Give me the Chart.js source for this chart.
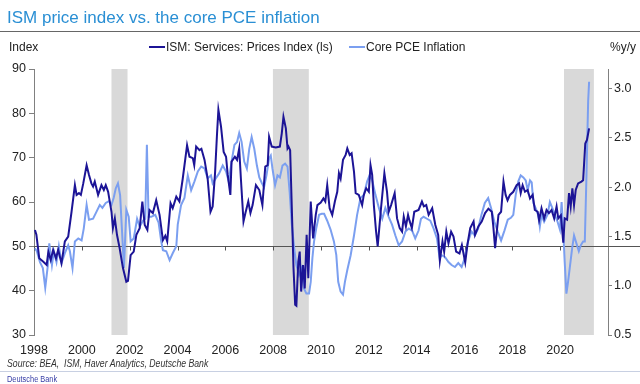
<!DOCTYPE html>
<html>
<head>
<meta charset="utf-8">
<script src="https://cdn.jsdelivr.net/npm/chart.js@4.4.1/dist/chart.umd.min.js"></script>
<style>
  body { margin: 0; background: #fff; }
  #wrap { position: relative; width: 640px; height: 384px; overflow: hidden; font-family: "Liberation Sans", Arial, sans-serif; }
  #chart { position: absolute; left: 0; top: 0; }
  .txt { position: absolute; white-space: nowrap; line-height: 1; }
  .narrow { transform: scaleX(0.87); transform-origin: left center; }
  .rule { position: absolute; left: 0; width: 640px; height: 1px; }
  .swatch { position: absolute; width: 16px; height: 2px; }
</style>
</head>
<body>
<div id="wrap">
  <canvas id="chart" width="640" height="384"></canvas>
  <div class="txt" style="left:7px; top:9px; font-size:17px; color:#2a8fd4;">ISM price index vs. the core PCE inflation</div>
  <div class="rule" style="top:31px; background:#666;"></div>
  <div class="txt" style="left:9px; top:41px; font-size:12px; color:#222;">Index</div>
  <div class="swatch" style="left:149px; top:46px; background:#1c1496;"></div>
  <div class="txt" style="left:166px; top:41px; font-size:12px; color:#222;">ISM: Services: Prices Index (ls)</div>
  <div class="swatch" style="left:349px; top:46px; background:#7b9ff0;"></div>
  <div class="txt" style="left:366px; top:41px; font-size:12px; color:#222;">Core PCE Inflation</div>
  <div class="txt" style="left:610px; top:41px; font-size:12px; color:#222;">%y/y</div>
  <div class="txt narrow" style="left:7px; top:359px; font-size:10px; font-style:italic; color:#333;">Source: BEA,&nbsp; ISM, Haver Analytics, Deutsche Bank</div>
  <div class="rule" style="top:371px; background:#c8d0e2;"></div>
  <div class="txt narrow" style="left:7px; top:375px; font-size:8.5px; color:#3a40a8;">Deutsche Bank</div>
</div>
<script>
// ISM: Services: Prices Index (left axis)
const ismYears = [
  1998.04, 1998.1, 1998.22, 1998.39, 1998.53, 1998.6, 1998.7, 1998.8, 1998.92, 1999.01,
  1999.15, 1999.29, 1999.43, 1999.57, 1999.71, 1999.78, 1999.88, 1999.96, 2000.06, 2000.2,
  2000.3, 2000.4, 2000.47, 2000.54, 2000.68, 2000.82, 2000.92, 2001.0, 2001.1, 2001.24,
  2001.3, 2001.38, 2001.47, 2001.58, 2001.72, 2001.86, 2001.93, 2002.04, 2002.17, 2002.28,
  2002.42, 2002.53, 2002.63, 2002.74, 2002.83, 2002.97, 2003.11, 2003.25, 2003.39, 2003.49,
  2003.57, 2003.71, 2003.8, 2003.95, 2004.08, 2004.22, 2004.4, 2004.5, 2004.64, 2004.7,
  2004.78, 2004.92, 2005.0, 2005.13, 2005.26, 2005.38, 2005.47, 2005.57, 2005.65, 2005.71,
  2005.82, 2005.93, 2006.03, 2006.1, 2006.21, 2006.26, 2006.4, 2006.49, 2006.58, 2006.65,
  2006.76, 2006.84, 2006.96, 2007.05, 2007.14, 2007.28, 2007.42, 2007.55, 2007.67, 2007.77,
  2007.83, 2007.94, 2008.11, 2008.28, 2008.36, 2008.43, 2008.53, 2008.6, 2008.64, 2008.71,
  2008.78, 2008.85, 2008.92, 2008.97, 2009.05, 2009.11, 2009.17, 2009.25, 2009.32, 2009.4,
  2009.47, 2009.57, 2009.67, 2009.78, 2009.85, 2009.99, 2010.1, 2010.18, 2010.26, 2010.36,
  2010.47, 2010.58, 2010.68, 2010.75, 2010.82, 2010.92, 2011.03, 2011.1, 2011.2, 2011.28,
  2011.38, 2011.45, 2011.58, 2011.72, 2011.79, 2011.89, 2012.0, 2012.07, 2012.14, 2012.21,
  2012.3, 2012.37, 2012.51, 2012.65, 2012.76, 2012.83, 2012.93, 2013.08, 2013.18, 2013.29,
  2013.39, 2013.46, 2013.55, 2013.64, 2013.7, 2013.8, 2013.9, 2014.08, 2014.22, 2014.3,
  2014.4, 2014.5, 2014.65, 2014.78, 2014.9, 2014.97, 2015.08, 2015.15, 2015.24, 2015.33,
  2015.44, 2015.54, 2015.65, 2015.79, 2015.89, 2016.03, 2016.12, 2016.24, 2016.38, 2016.44,
  2016.58, 2016.72, 2016.86, 2017.0, 2017.14, 2017.2, 2017.28, 2017.42, 2017.53, 2017.63,
  2017.72, 2017.8, 2017.9, 2018.04, 2018.18, 2018.28, 2018.35, 2018.43, 2018.53, 2018.64,
  2018.74, 2018.85, 2018.94, 2019.06, 2019.12, 2019.22, 2019.33, 2019.43, 2019.53, 2019.64,
  2019.75, 2019.85, 2019.92, 2020.03, 2020.13, 2020.19, 2020.29, 2020.37, 2020.44, 2020.51,
  2020.58, 2020.65, 2020.75, 2020.89, 2020.96, 2021.05, 2021.12, 2021.21
];
const ismValues = [
  53.7, 52.6, 47.3, 46.5, 45.8, 48.8, 46.9, 49.2, 47.3, 49.2,
  46.2, 51.1, 52.2, 57.8, 63.8, 61.6, 62.0, 61.6, 64.2, 68.3,
  66.1, 64.2, 63.5, 64.6, 61.6, 63.8, 62.7, 63.8, 62.3, 57.8,
  54.1, 56.3, 52.6, 49.6, 45.1, 42.0, 42.2, 48.0, 48.8, 52.6,
  54.1, 60.1, 54.8, 53.7, 58.2, 57.5, 60.4, 57.1, 51.4, 52.4,
  51.1, 59.7, 58.6, 61.2, 60.1, 65.3, 72.8, 70.2, 69.9, 68.3,
  72.5, 71.7, 72.0, 69.5, 65.3, 57.8, 59.0, 66.5, 75.1, 80.8,
  77.0, 71.3, 70.2, 66.1, 61.6, 69.1, 70.2, 69.5, 72.1, 65.3,
  55.6, 57.5, 60.1, 57.5, 59.3, 63.8, 62.7, 59.3, 68.0, 68.3,
  74.7, 72.5, 72.3, 72.5, 75.5, 79.2, 76.6, 72.1, 72.5, 71.7,
  58.6, 45.1, 36.8, 36.6, 46.5, 48.8, 39.8, 45.8, 40.5, 52.6,
  42.8, 60.1, 51.8, 57.1, 59.3, 59.9, 60.8, 60.1, 63.8, 58.6,
  57.1, 60.1, 62.3, 66.5, 65.3, 69.5, 70.6, 72.1, 70.6, 71.0,
  66.8, 62.0, 61.6, 59.3, 61.6, 63.1, 62.3, 68.3, 66.1, 59.3,
  53.5, 50.0, 58.6, 66.5, 62.3, 57.8, 59.3, 62.0, 56.3, 54.1,
  53.3, 56.7, 54.5, 57.1, 55.8, 54.1, 57.8, 58.2, 60.1, 59.0,
  59.3, 57.1, 58.6, 54.8, 52.6, 46.8, 51.1, 48.8, 53.3, 50.7,
  53.3, 52.2, 48.8, 48.4, 50.3, 46.4, 50.3, 54.1, 55.6, 52.6,
  54.5, 55.6, 57.5, 58.5, 57.8, 54.8, 49.6, 57.1, 57.8, 64.6,
  61.6, 60.4, 61.6, 62.3, 63.8, 64.2, 62.0, 63.8, 62.3, 62.7,
  60.8, 61.6, 58.2, 57.8, 55.9, 58.6, 56.3, 58.2, 57.5, 58.2,
  56.3, 59.0, 56.3, 57.0, 50.8, 56.3, 56.0, 62.0, 59.0, 63.1,
  59.3, 62.7, 64.2, 64.6, 64.9, 73.2, 74.0, 76.6
];

// Core PCE inflation, %y/y (right axis)
const pceYears = [
  1998.04, 1998.12, 1998.25, 1998.37, 1998.47, 1998.58, 1998.64, 1998.75, 1998.83, 1998.94,
  1999.04, 1999.15, 1999.29, 1999.43, 1999.5, 1999.61, 1999.71, 1999.85, 1999.99, 2000.08,
  2000.2, 2000.3, 2000.47, 2000.61, 2000.75, 2000.86, 2001.0, 2001.14, 2001.24, 2001.33,
  2001.42, 2001.51, 2001.6, 2001.69, 2001.76, 2001.86, 2001.96, 2002.04, 2002.17, 2002.31,
  2002.42, 2002.56, 2002.65, 2002.72, 2002.79, 2002.9, 2003.07, 2003.21, 2003.32, 2003.39,
  2003.53, 2003.67, 2003.8, 2003.95, 2004.01, 2004.15, 2004.29, 2004.43, 2004.57, 2004.71,
  2004.85, 2004.99, 2005.13, 2005.26, 2005.4, 2005.47, 2005.6, 2005.74, 2005.89, 2006.03,
  2006.14, 2006.26, 2006.38, 2006.49, 2006.58, 2006.68, 2006.79, 2006.9, 2007.0, 2007.1,
  2007.21, 2007.32, 2007.42, 2007.53, 2007.62, 2007.72, 2007.83, 2007.9, 2007.97, 2008.08,
  2008.18, 2008.28, 2008.39, 2008.5, 2008.6, 2008.69, 2008.78, 2008.88, 2008.97, 2009.08,
  2009.19, 2009.29, 2009.39, 2009.5, 2009.57, 2009.64, 2009.71, 2009.8, 2009.92, 2010.03,
  2010.13, 2010.26, 2010.4, 2010.54, 2010.64, 2010.72, 2010.82, 2010.92, 2011.0, 2011.1,
  2011.24, 2011.38, 2011.51, 2011.65, 2011.79, 2011.93, 2012.03, 2012.14, 2012.28, 2012.42,
  2012.56, 2012.69, 2012.83, 2012.97, 2013.11, 2013.25, 2013.39, 2013.53, 2013.67, 2013.81,
  2013.94, 2014.08, 2014.18, 2014.29, 2014.43, 2014.57, 2014.71, 2014.85, 2014.96, 2015.05,
  2015.19, 2015.33, 2015.46, 2015.6, 2015.74, 2015.88, 2016.01, 2016.15, 2016.29, 2016.43,
  2016.57, 2016.71, 2016.85, 2016.99, 2017.11, 2017.25, 2017.39, 2017.53, 2017.67, 2017.81,
  2017.94, 2018.04, 2018.14, 2018.25, 2018.35, 2018.46, 2018.56, 2018.64, 2018.74, 2018.81,
  2018.88, 2018.97, 2019.08, 2019.15, 2019.22, 2019.33, 2019.47, 2019.57, 2019.67, 2019.78,
  2019.89, 2019.99, 2020.06, 2020.13, 2020.19, 2020.26, 2020.33, 2020.4, 2020.5, 2020.58,
  2020.68, 2020.78, 2020.86, 2020.96, 2021.03, 2021.1, 2021.17, 2021.21
];
const pceValues = [
  1.38, 1.35, 1.24, 1.18, 0.98, 1.21, 1.43, 1.21, 1.35, 1.24,
  1.40, 1.23, 1.33, 1.41, 1.35, 1.18, 1.45, 1.48, 1.46, 1.58,
  1.82, 1.67, 1.68, 1.75, 1.82, 1.79, 1.84, 1.86, 1.82, 1.89,
  1.99, 2.04, 1.92, 1.51, 1.18, 1.77, 1.70, 1.45, 1.48, 1.68,
  1.60, 1.66, 1.68, 2.43, 1.70, 1.70, 1.72, 1.64, 1.45, 1.36,
  1.35, 1.26, 1.33, 1.40, 1.62, 1.82, 1.89, 2.12, 1.97, 2.06,
  2.16, 2.21, 2.19, 2.09, 2.12, 2.04, 2.09, 2.14, 2.22, 2.16,
  2.06, 2.26, 2.43, 2.46, 2.55, 2.46, 2.26, 2.19, 2.39, 2.51,
  2.39, 2.22, 2.10, 2.04, 2.00, 2.12, 2.29, 2.32, 2.19, 2.02,
  2.12, 2.10, 2.22, 2.24, 2.21, 1.95, 1.62, 1.38, 1.21, 1.11,
  1.18, 0.97, 0.92, 0.92, 1.04, 1.28, 1.45, 1.58, 1.72, 1.73,
  1.73, 1.66, 1.57, 1.45, 1.31, 1.04, 0.94, 0.91, 1.04, 1.16,
  1.31, 1.51, 1.72, 1.89, 1.92, 2.06, 2.12, 2.07, 1.92, 1.79,
  1.68, 1.79, 1.70, 1.62, 1.51, 1.41, 1.45, 1.55, 1.58, 1.56,
  1.48, 1.56, 1.68, 1.70, 1.68, 1.66, 1.58, 1.48, 1.28, 1.31,
  1.29, 1.24, 1.21, 1.19, 1.23, 1.19, 1.28, 1.45, 1.55, 1.51,
  1.58, 1.72, 1.84, 1.89, 1.79, 1.65, 1.55, 1.46, 1.56, 1.67,
  1.69, 1.72, 1.92, 2.06, 2.12, 2.10, 2.07, 1.97, 2.07, 2.05,
  1.84, 1.79, 1.72, 1.60, 1.72, 1.65, 1.72, 1.85, 1.79, 1.72,
  1.65, 1.57, 1.85, 1.55, 1.24, 0.92, 1.04, 1.18, 1.38, 1.51,
  1.43, 1.35, 1.41, 1.45, 1.45, 2.12, 2.87, 3.07
];

// Recessions (shaded)
const recessionStarts = [2001.24, 2007.99, 2020.16];
const recessionEnds = [2001.91, 2009.49, 2021.41];

// Tick labels
const xTickYears = [1998, 2000, 2002, 2004, 2006, 2008, 2010, 2012, 2014, 2016, 2018, 2020];
const leftTicks = [30, 40, 50, 60, 70, 80, 90];
const rightTicks = [0.5, 1.0, 1.5, 2.0, 2.5, 3.0];
const baseLine = 50;

const backdrop = {
    id: 'backdrop',
    beforeDatasetsDraw(chart) {
        const { ctx, chartArea: a, scales: { x, y } } = chart;
        ctx.save();
        // recession bars
        ctx.fillStyle = '#d9d9d9';
        recessionStarts.forEach((s, i) => {
            const x0 = x.getPixelForValue(s);
            const x1 = x.getPixelForValue(recessionEnds[i]);
            ctx.fillRect(x0, a.top, x1 - x0, a.bottom - a.top);
        });
        // the 50 line acts as the x axis, with its tick marks
        const y50 = Math.round(y.getPixelForValue(baseLine)) + 0.5;
        ctx.strokeStyle = '#555';
        ctx.lineWidth = 1;
        ctx.beginPath();
        ctx.moveTo(a.left, y50);
        ctx.lineTo(640, y50);
        xTickYears.forEach(v => {
            const px = Math.round(x.getPixelForValue(v)) + 0.5;
            ctx.moveTo(px, y50);
            ctx.lineTo(px, y50 + 4);
        });
        ctx.stroke();
        ctx.restore();
    }
};

const tickFont = { family: '"Liberation Sans", Arial, sans-serif', size: 12.5 };
const axisGrey = '#808080';

new Chart(document.getElementById('chart'), {
    type: 'line',
    data: {
        datasets: [{
            label: 'ISM: Services: Prices Index (ls)',
            data: ismYears.map((x, i) => ({ x, y: ismValues[i] })),
            yAxisID: 'y',
            borderColor: '#1c1496',
            borderWidth: 2,
            pointRadius: 0,
            tension: 0
        }, {
            label: 'Core PCE Inflation',
            data: pceYears.map((x, i) => ({ x, y: pceValues[i] })),
            yAxisID: 'y1',
            borderColor: '#7b9ff0',
            borderWidth: 2,
            pointRadius: 0,
            tension: 0
        }]
    },
    options: {
        responsive: false,
        animation: false,
        devicePixelRatio: 1,
        layout: { padding: { top: 69, left: 0, right: 0, bottom: 0 } },
        plugins: {
            legend: { display: false },
            tooltip: { enabled: false }
        },
        scales: {
            x: {
                type: 'linear',
                min: 1998,
                max: 2022,
                grid: { display: false },
                border: { display: false },
                afterBuildTicks: s => { s.ticks = xTickYears.map(v => ({ value: v })); },
                afterFit: s => { s.height = 49; },
                ticks: {
                    autoSkip: false,
                    maxRotation: 0,
                    padding: 0,
                    color: '#222',
                    font: tickFont,
                    callback: v => String(v)
                }
            },
            y: {
                position: 'left',
                min: 30,
                max: 90,
                grid: { drawOnChartArea: false, drawTicks: true, tickLength: 5, color: axisGrey },
                border: { color: axisGrey },
                afterBuildTicks: s => { s.ticks = leftTicks.map(v => ({ value: v })); },
                afterFit: s => { s.width = 34; },
                ticks: { padding: 3, color: '#222', font: tickFont }
            },
            y1: {
                position: 'right',
                min: 0.5,
                max: 3.2,
                grid: { drawOnChartArea: false, drawTicks: true, tickLength: 4, color: axisGrey },
                border: { color: axisGrey },
                afterBuildTicks: s => { s.ticks = rightTicks.map(v => ({ value: v })); },
                afterFit: s => { s.width = 32; },
                ticks: { padding: 2, color: '#222', font: tickFont, callback: v => v.toFixed(1) }
            }
        }
    },
    plugins: [backdrop]
});
</script>
</body>
</html>
